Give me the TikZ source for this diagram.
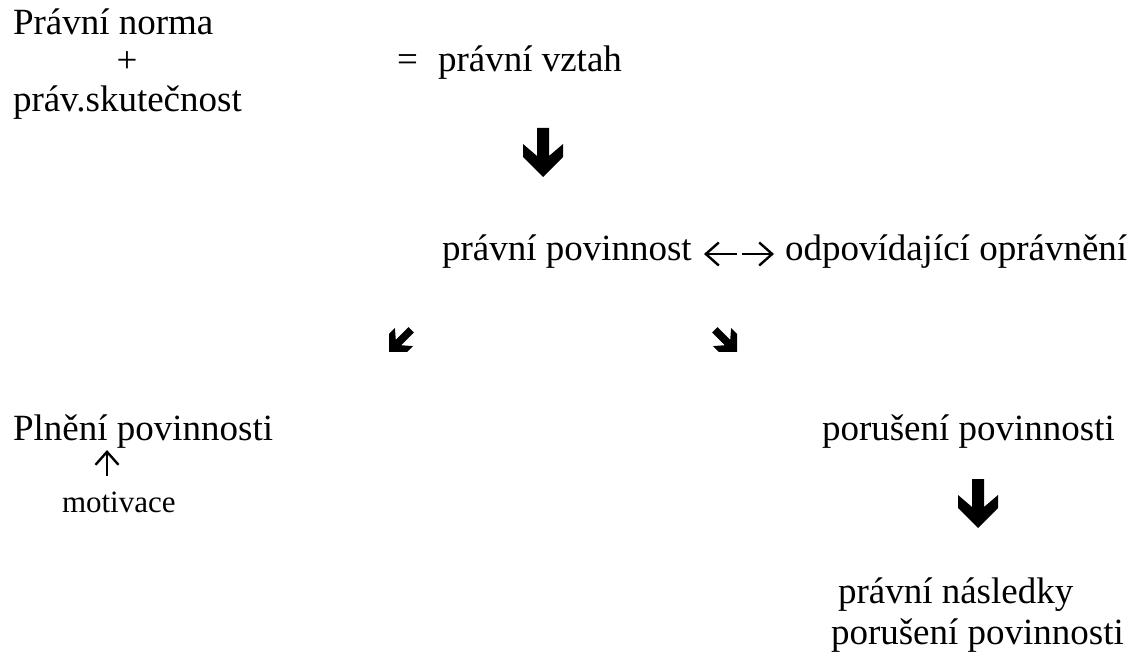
\documentclass[tikz,border=0pt]{standalone}
\usepackage{fontspec}
\setmainfont{Liberation Serif}
\usetikzlibrary{arrows.meta}
\begin{document}
\begin{tikzpicture}[x=1pt,y=-1pt,
  txt/.style={inner sep=0pt,outer sep=0pt,anchor=base west,font=\fontsize{37}{44}\selectfont},
  small/.style={inner sep=0pt,outer sep=0pt,anchor=base west,font=\fontsize{31}{36}\selectfont},
  thin arrow/.style={line width=2.4pt,-{Straight Barb[length=13pt,width=23pt,line width=2.4pt]}},
  wing/.pic={\fill[black] (0,0) -- (20,-20) -- (20,-33) -- (6,-21) -- (6,-49) -- (-6,-49) -- (-6,-21) -- (-20,-33) -- (-20,-20) -- cycle;}]
\useasboundingbox (0,0) rectangle (1136,668);
\node[txt] (norma) at (13,35) {Právní norma};
\node[txt,anchor=base] (plus) at (127,73) {+};
\node[txt] (skut) at (13,112) {práv.skutečnost};
\node[txt] (eq) at (397,72) {=};
\node[txt] (vztah) at (438,72) {právní vztah};
\pic at (543,177) {wing};
\node[txt] (povinnost) at (442,261) {právní povinnost};
\coordinate (lstart) at (737,254);
\coordinate (lend) at (704,254);
\coordinate (rstart) at (742,254);
\coordinate (rend) at (774,254);
\draw[thin arrow] (lstart) -- (lend);
\draw[thin arrow] (rstart) -- (rend);
\node[txt] (opravneni) at (785,261) {odpovídající oprávnění};
\pic[rotate=-45,scale=0.64] at (389,352) {wing};
\pic[rotate=45,scale=0.64] at (737,352) {wing};
\node[txt] (plneni) at (13,441) {Plnění povinnosti};
\coordinate (upstart) at (107,476);
\coordinate (upend) at (107,450);
\draw[thin arrow] (upstart) -- (upend);
\node[small] (motivace) at (62,512) {motivace};
\node[txt] (poruseni) at (822,441) {porušení povinnosti};
\pic at (978,528) {wing};
\node[txt] (nasledky) at (838,603) {právní následky};
\node[txt] (poruseni2) at (831,644) {porušení povinnosti};
\end{tikzpicture}
\end{document}
